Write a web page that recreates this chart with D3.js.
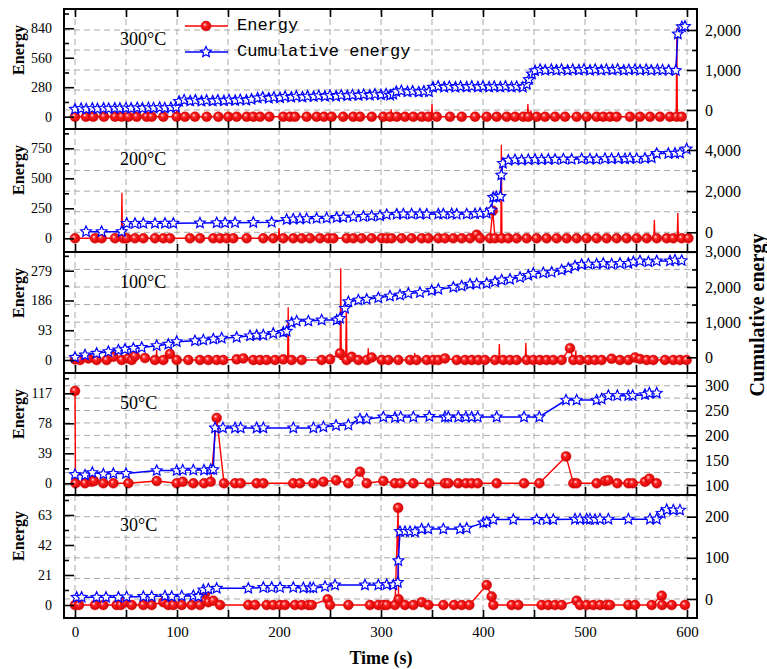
<!DOCTYPE html>
<html><head><meta charset="utf-8">
<script src="https://cdn.jsdelivr.net/npm/d3@7"></script>
<style>body{margin:0;background:#fff}svg{display:block}</style>
</head><body><svg id="c" width="767" height="669"></svg>
<script>
// ---------------- DATA ----------------
const timeTicks = [0, 100, 200, 300, 400, 500, 600];
const panelLabels = ["300°C", "200°C", "100°C", "50°C", "30°C"];
const legendLabels = ["Energy", "Cumulative energy"];

const leftTicks300 = [0, 280, 560, 840], rightTicks300 = [0, 1000, 2000];
const leftTicks200 = [0, 250, 500, 750], rightTicks200 = [0, 2000, 4000];
const leftTicks100 = [0, 93, 186, 279], rightTicks100 = [0, 1000, 2000, 3000];
const leftTicks50 = [0, 39, 78, 117], rightTicks50 = [100, 150, 200, 250, 300];
const leftTicks30 = [0, 21, 42, 63], rightTicks30 = [0, 100, 200];

// Energy (marked points) [time, value]
const energy300 = [[0,0],[10.8,0],[17.9,0],[28.4,0],[39.2,0],[45.8,0],[52.3,0],[60.5,0],[70.3,0],[75.2,0],[86.6,0],[99.7,0],[107.8,0],[117.6,0],[129.1,0],[140.5,0],[150.3,0],[158.5,0],[168.3,0],[174.8,0],[181.4,0],[190.5,0],[204.2,0],[210.8,0],[215.7,0],[227.1,0],[236.9,0],[244.1,0],[251.6,0],[262.9,0],[272.8,0],[279.4,0],[290.9,0],[302.3,0],[308.8,0],[315.4,0],[323.5,0],[331.7,0],[339.9,0],[346.4,0],[354.6,0],[367.6,0],[379.1,0],[392.2,0],[403.6,0],[413.4,0],[423.2,0],[431.4,0],[439.5,0],[444.4,0],[452.6,0],[460.8,0],[470.6,0],[480.4,0],[491.8,0],[501.6,0],[511.4,0],[517.9,0],[524.5,0],[531,0],[544.1,0],[553.9,0],[563.7,0],[573.5,0],[583.3,0],[589.9,0],[594.8,0]];
const spikes300 = [[100,150],[310,70],[350,120],[444,120],[447,60],[590,840]];
const cumulative300 = [[0,20],[6,35],[11,25],[17,40],[22,30],[28,45],[33,35],[39,45],[44,40],[50,50],[55,40],[61,55],[66,45],[72,55],[77,50],[83,60],[88,50],[94,60],[99,70],[102,215],[107,250],[113,225],[118,245],[124,220],[129,240],[135,225],[140,245],[146,230],[151,250],[157,235],[162,255],[168,245],[173,265],[179,300],[184,320],[190,295],[195,320],[201,305],[206,335],[212,320],[217,340],[223,325],[228,345],[234,335],[239,355],[245,340],[250,360],[256,345],[261,370],[267,355],[272,375],[278,360],[283,385],[289,370],[294,395],[300,380],[305,400],[309,370],[312,395],[315,460],[320,480],[326,455],[331,470],[337,450],[342,470],[347,455],[351,570],[356,590],[362,570],[367,585],[373,570],[378,585],[384,575],[389,590],[395,575],[400,590],[406,575],[411,585],[417,575],[422,590],[428,575],[433,585],[439,570],[443,640],[445,760],[448,900],[451,980],[456,1010],[461,990],[467,1010],[472,995],[477,1010],[483,990],[488,1010],[494,1000],[499,1015],[505,990],[510,1010],[516,995],[521,1010],[527,1000],[532,1015],[538,990],[543,1005],[549,1010],[554,995],[560,1010],[565,990],[571,1005],[576,1000],[582,995],[589,985],[591,1900],[595,2080],[598,2090]];

const energy200 = [[0,0],[19.6,0],[26.1,0],[39.2,0],[47.4,0],[50.7,0],[58.8,0],[67,0],[78.4,0],[86.6,0],[93.1,0],[112.7,0],[122.5,0],[135.6,0],[142.2,0],[148.7,0],[155.2,0],[168.3,0],[184.6,0],[194.4,0],[204.2,0],[214,0],[222.2,0],[230.4,0],[240.2,0],[248.4,0],[253.3,0],[266.3,0],[272.9,0],[281,0],[290.8,0],[300.7,0],[305.6,0],[310.4,0],[320.2,0],[330,0],[339.9,0],[346.4,0],[356.2,0],[362.7,0],[370.9,0],[379.1,0],[387.3,0],[393.8,30],[397.1,0],[406.9,0],[409.5,230],[411.8,0],[418.3,0],[424.8,0],[433,0],[442.8,0],[452.6,0],[462.4,0],[472.2,0],[482,0],[491.8,0],[501.6,0],[511.4,0],[521.2,0],[531,0],[540.8,0],[550.7,0],[560.5,0],[570.3,0],[580.1,0],[586.6,0],[594.8,0],[601.3,0]];
const spikes200 = [[46,380],[200,86],[418,780],[568,155],[591,210]];
const cumulative200 = [[10.8,30],[26.1,30],[45.8,30],[50.7,435],[58.8,430],[67,440],[78.4,435],[88.2,440],[96.4,440],[122.5,450],[138.9,460],[147.1,465],[156.9,470],[174.8,480],[192.8,490],[207.5,620],[214,640],[220.6,650],[227.1,660],[236.9,680],[246.7,690],[256.6,720],[263.1,730],[272.9,750],[282.7,770],[290.8,790],[299,800],[305.6,860],[315.4,880],[321.9,885],[330,890],[338.2,890],[344.8,880],[356.2,890],[361.1,890],[369.3,900],[374.2,880],[384,890],[392.2,900],[397.1,920],[403.6,920],[408,1080],[410,1700],[413,1720],[417,1740],[418,2780],[419.5,3350],[424.8,3500],[431.4,3520],[437.9,3510],[444.4,3530],[451,3540],[457.5,3530],[464,3550],[470.6,3540],[478.8,3560],[486.9,3550],[496.7,3570],[504.9,3560],[511.4,3550],[519.6,3580],[526.1,3570],[532.7,3580],[539.2,3570],[544.1,3590],[550.7,3580],[558.8,3600],[565.4,3620],[570.3,3830],[581.7,3830],[588.2,3840],[593.1,3850],[599.6,4050]];

const energy100 = [[0,2],[4.9,0],[13.1,5],[21.2,0],[31,0],[37.6,10],[45.8,0],[52.3,5],[55.6,0],[58.8,12],[68.6,6],[78.4,0],[86.6,0],[93.1,19],[99.7,0],[111.1,0],[122.5,0],[130.7,0],[138.9,0],[145.4,0],[158.5,2],[165,5],[174.8,0],[181.4,0],[187.9,0],[196.1,0],[204.2,2],[212.4,0],[222.2,0],[241.8,0],[250,2],[259.8,21],[266.3,0],[271.2,10],[277.8,0],[286,0],[290.9,8],[300.7,0],[307.2,0],[317,0],[328.4,0],[334.9,0],[344.8,0],[351.3,0],[356.2,0],[362.7,5],[374.2,0],[382.4,0],[388.9,0],[395.4,0],[401.9,0],[411.8,0],[419.9,0],[426.5,0],[433,0],[442.8,0],[449.3,0],[455.8,0],[462.4,0],[468.9,0],[477.1,0],[485.3,37],[488.6,0],[495.1,0],[503.3,0],[509.8,0],[516.3,0],[526.1,4],[534.3,0],[542.5,0],[549,8],[553.9,3],[560.5,0],[567,0],[578.4,0],[586.6,0],[593.1,0],[599.6,0]];
const spikes100 = [[80,31],[209,165],[260.5,287],[266,187],[287.5,37],[333,22],[416,50],[442,54],[491,30]];
const cumulative100 = [[0,0],[9.8,66],[21.2,114],[32.7,160],[42.5,208],[49,230],[57.2,255],[65.4,280],[80.1,331],[91.5,370],[99.7,445],[117.6,470],[125.8,492],[135.6,520],[143.8,545],[158.5,568],[171.6,610],[178.1,625],[184.6,634],[194.4,680],[204.2,710],[207.5,740],[212.4,984],[217.3,1030],[228.8,1030],[241.8,1060],[256.6,1060],[259.8,1108],[264.7,1392],[268,1580],[277.8,1628],[286,1650],[297.4,1694],[308.8,1740],[318.6,1770],[326.8,1818],[338.2,1840],[349.7,1900],[356.2,1932],[370.9,1990],[379.1,2026],[387.3,2080],[393.8,2090],[403.6,2102],[411.8,2150],[418.3,2196],[426.5,2220],[436.3,2273],[444.4,2330],[449.3,2386],[459.1,2400],[467.3,2420],[477.1,2480],[483.6,2530],[490.2,2594],[496.7,2640],[503.3,2650],[511.4,2650],[517.9,2670],[526.1,2650],[534.3,2670],[542.5,2670],[547.4,2716],[553.9,2740],[562.1,2716],[570.3,2740],[583.3,2740],[588.2,2764],[594.8,2750]];

const energy50 = [[0,120],[0.5,0],[9.8,0],[16.3,2],[18.6,3],[27.8,0],[37.6,0],[52.3,0],[80.1,3],[99.7,0],[105.6,2],[116,0],[126.5,0],[133,2],[138.9,85],[146.1,0],[156.9,0],[162.4,0],[178.1,0],[184.6,0],[214,0],[220.6,0],[233.7,0],[243.5,2],[255.9,4],[268,0],[279.4,15],[286,0],[302.3,3],[313.7,0],[319.3,0],[331.7,0],[347.4,0],[362.7,0],[366,0],[375.8,0],[383.3,0],[388.9,0],[394.8,0],[413.4,0],[440.2,0],[455.2,0],[481.4,35],[488.6,0],[491.8,0],[511.4,0],[519.6,3],[522.9,4],[531.7,0],[542.5,0],[546.7,0],[558.8,2],[563.1,6],[570.3,0]];
const spikes50 = [];
const cumulative50 = [[0,121],[9.8,120],[17,125],[27.8,122],[37.6,123],[50,123],[80.1,129],[99.7,129],[105.6,130],[116,130],[126.5,130],[133,131],[135.5,131],[137.3,215],[145,215],[156.9,215],[162.4,215],[178.1,215],[184.6,215],[214,215],[233.7,215],[243.5,217],[255.9,220],[268,221],[279.4,233],[286,233],[302.3,237],[313.7,236],[319.3,237],[331.7,237],[347.4,238],[362.7,237],[366,237],[375.8,237],[383.3,237],[388.9,237],[394.8,237],[413.4,237],[440.2,237],[455.2,237],[481.4,271],[491.8,271],[511.4,271],[516.3,273],[522.9,280],[531.7,280],[542.5,280],[546.7,280],[558.8,282],[563.1,285],[570.3,285]];

const energy30 = [[0,0],[3.9,0],[19.6,0],[27.8,0],[40.8,0],[44.8,0],[49,2],[55.6,0],[67,0],[75.2,0],[86.6,2],[91.5,0],[96.4,0],[104.6,0],[114.4,0],[122.5,0],[127.5,8],[130.7,2],[135.6,3],[142.2,0],[169.9,0],[176.5,0],[187.9,0],[194.4,0],[201,0],[205.9,0],[215.7,0],[222.2,0],[228.8,0],[232,0],[247.7,4],[250,0],[268,0],[289.2,0],[297.4,0],[302.3,0],[305.6,0],[313.7,0],[316.8,68],[317.2,4],[323.5,0],[331.7,0],[339.9,2],[346.4,0],[361.1,0],[371.6,0],[379.1,0],[386.6,0],[403.6,14],[408.5,6],[410.1,0],[428.1,0],[434.6,0],[457.5,0],[464,0],[470.6,0],[477.1,0],[491.8,3],[495.1,0],[501.6,0],[508.1,0],[514.7,0],[521.3,0],[524.5,0],[542.5,0],[549,0],[565.4,0],[575.2,6.5],[575.6,0],[585,0],[598,0]];
const spikes30 = [];
const cumulative30 = [[1.6,4],[6.5,4],[21.2,4],[30.4,4],[42.5,4],[50.6,5],[67,6],[75.2,6],[88.2,7],[94.8,6],[104.6,7],[116,8],[120.9,6],[125.8,22],[130.7,24],[138.9,26],[169.9,26],[184.6,28],[192.8,28],[201,28],[214,28],[223.9,27],[230.4,27],[233.7,27],[245.1,30],[254.9,34],[284.3,34],[297.4,34],[305.6,35],[312.1,34],[316.5,40],[317,93],[318.6,164],[323.5,164],[328.4,164],[333.3,163],[339.9,170],[346.4,170],[361.1,170],[377.5,170],[384,172],[400.3,185],[403.6,187],[410.1,193],[429.7,193],[452.6,193],[462.4,193],[468.9,193],[490.2,194],[495.1,194],[501.6,194],[504.9,194],[509.8,193],[514.7,194],[522.9,194],[542.5,194],[563.7,194],[570.3,194],[575.2,208],[580.1,217],[586.6,216],[593.1,216]];

// ---------------- LAYOUT ----------------
const svg = d3.select("#c");
const X0 = 64, X1 = 697;
const x = d3.scaleLinear().domain([-10.8, 609.8]).range([X0, X1]);
const serif = "'Liberation Serif','Times New Roman',serif";

const panels = [
  {label: panelLabels[0], top: 9, bottom: 129, left: [-117, 1023], lt: leftTicks300, lminor: 140, right: [-475, 2525], rt: rightTicks300, rminor: 500, energy: energy300, spikes: spikes300, cum: cumulative300},
  {label: panelLabels[1], top: 129, bottom: 252, left: [-114, 911], lt: leftTicks200, lminor: 125, right: [-957, 5020], rt: rightTicks200, rminor: 1000, energy: energy200, spikes: spikes200, cum: cumulative200},
  {label: panelLabels[2], top: 252, bottom: 373, left: [-40.6, 337.5], lt: leftTicks100, lminor: 46.5, right: [-446, 2995], rt: rightTicks100, rminor: 500, energy: energy100, spikes: spikes100, cum: cumulative100},
  {label: panelLabels[3], top: 373, bottom: 495, left: [-15.2, 143.4], lt: leftTicks50, lminor: 19.5, right: [79.9, 325.6], rt: rightTicks50, rminor: 25, energy: energy50, spikes: spikes50, cum: cumulative50},
  {label: panelLabels[4], top: 495, bottom: 618, left: [-9.1, 77], lt: leftTicks30, lminor: 10.5, right: [-46.2, 252.7], rt: rightTicks30, rminor: 50, energy: energy30, spikes: spikes30, cum: cumulative30}
];

const defs = svg.append("defs");
const grad = defs.append("radialGradient").attr("id", "ball")
  .attr("cx", "50%").attr("cy", "50%").attr("r", "55%").attr("fx", "35%").attr("fy", "32%");
grad.append("stop").attr("offset", "0%").attr("stop-color", "#ffe0e0");
grad.append("stop").attr("offset", "35%").attr("stop-color", "#ff2020");
grad.append("stop").attr("offset", "100%").attr("stop-color", "#c80000");

function starPath(R) {
  const r = R * 0.47; let p = "";
  for (let i = 0; i < 10; i++) {
    const a = -Math.PI / 2 + i * Math.PI / 5, rr = i % 2 ? r : R;
    p += (i ? "L" : "M") + (rr * Math.cos(a)).toFixed(2) + "," + (rr * Math.sin(a)).toFixed(2);
  }
  return p + "Z";
}
const STAR = starPath(5.6);

function minors(dom, step, majors) {
  const out = [];
  const s = Math.ceil(dom[0] / step) * step;
  for (let v = s; v <= dom[1] + 1e-9; v += step) {
    if (!majors.some(m => Math.abs(m - v) < 1e-6)) out.push(+v.toFixed(4));
  }
  return out;
}
const gridTimes = d3.range(0, 601, 50);

panels.forEach((p, i) => {
  const yl = d3.scaleLinear().domain(p.left).range([p.bottom, p.top]);
  const yr = d3.scaleLinear().domain(p.right).range([p.bottom, p.top]);
  const g = svg.append("g");
  const cid = "clip" + i;
  defs.append("clipPath").attr("id", cid).append("rect")
    .attr("x", X0).attr("y", p.top).attr("width", X1 - X0).attr("height", p.bottom - p.top);

  // grid
  const grid = g.append("g").attr("stroke", "#a8a8a8").attr("stroke-width", 1).attr("stroke-dasharray", "6,4");
  gridTimes.forEach(t => grid.append("line").attr("x1", x(t)).attr("x2", x(t)).attr("y1", p.top).attr("y2", p.bottom));
  const rAll = p.rt.concat(minors(p.right, p.rminor, p.rt)).filter(v => yr(v) > p.top + 1 && yr(v) < p.bottom - 1);
  rAll.forEach(v => grid.append("line").attr("x1", X0).attr("x2", X1).attr("y1", yr(v)).attr("y2", yr(v)));

  const plot = g.append("g").attr("clip-path", `url(#${cid})`);
  // energy line
  const eLine = d3.line().x(d => x(d[0])).y(d => yl(d[1]));
  plot.append("path").attr("d", eLine(p.energy)).attr("fill", "none").attr("stroke", "#ff0000").attr("stroke-width", 1.4);
  p.spikes.forEach(s => {
    plot.append("path").attr("d", eLine([[s[0] - 0.6, 0], [s[0], s[1]], [s[0] + 0.6, 0]]))
      .attr("fill", "none").attr("stroke", "#ff0000").attr("stroke-width", 1.3);
  });
  plot.append("g").selectAll("circle").data(p.energy).join("circle")
    .attr("cx", d => x(d[0])).attr("cy", d => yl(d[1])).attr("r", 5)
    .attr("fill", "url(#ball)").attr("stroke", "#e00000").attr("stroke-width", 0.4);
  // cumulative
  const cLine = d3.line().x(d => x(d[0])).y(d => yr(d[1]));
  plot.append("path").attr("d", cLine(p.cum)).attr("fill", "none").attr("stroke", "#0000ff").attr("stroke-width", 1.5);
  plot.append("g").selectAll("path").data(p.cum).join("path")
    .attr("d", STAR).attr("transform", d => `translate(${x(d[0])},${yr(d[1])})`)
    .attr("fill", "#fff").attr("stroke", "#0000ff").attr("stroke-width", 1.2);

  // frame
  g.append("rect").attr("x", X0).attr("y", p.top).attr("width", X1 - X0).attr("height", p.bottom - p.top)
    .attr("fill", "none").attr("stroke", "#000").attr("stroke-width", 2);

  // left axis
  const la = g.append("g").attr("transform", `translate(${X0},0)`)
    .call(d3.axisLeft(yl).tickValues(p.lt).tickSizeInner(-10).tickSizeOuter(0).tickPadding(12));
  const lm = g.append("g").attr("transform", `translate(${X0},0)`)
    .call(d3.axisLeft(yl).tickValues(minors(p.left, p.lminor, p.lt).filter(v => yl(v) > p.top + 2 && yl(v) < p.bottom - 2)).tickSizeInner(-5).tickSizeOuter(0).tickFormat(""));
  // right axis
  const ra = g.append("g").attr("transform", `translate(${X1},0)`)
    .call(d3.axisRight(yr).tickValues(p.rt.filter(v => yr(v) >= p.top - 0.5)).tickSizeInner(-10).tickSizeOuter(0).tickPadding(8).tickFormat(d3.format(",")));
  const rm = g.append("g").attr("transform", `translate(${X1},0)`)
    .call(d3.axisRight(yr).tickValues(minors(p.right, p.rminor, p.rt).filter(v => yr(v) > p.top + 2 && yr(v) < p.bottom - 2)).tickSizeInner(-5).tickSizeOuter(0).tickFormat(""));
  // bottom ticks
  const isLast = i === panels.length - 1;
  const ba = g.append("g").attr("transform", `translate(0,${p.bottom})`)
    .call(d3.axisBottom(x).tickValues(gridTimes).tickSizeInner(-8).tickSizeOuter(0).tickPadding(8)
      .tickFormat(d => (isLast && timeTicks.includes(d)) ? d : ""));
  const axes = [la, lm, ra, rm, ba];
  if (i === 0) {
    axes.push(g.append("g").attr("transform", `translate(0,${p.top})`)
      .call(d3.axisTop(x).tickValues(gridTimes).tickSizeInner(-8).tickSizeOuter(0).tickFormat("")));
  }
  axes.forEach(a => {
    a.select(".domain").remove();
    a.selectAll(".tick line").attr("stroke", "#000").attr("stroke-width", 1.6);
    a.selectAll("text").attr("font-family", serif).attr("fill", "#000");
  });
  la.selectAll("text").attr("font-size", 14);
  ra.selectAll("text").attr("font-size", 16);
  ba.selectAll("text").attr("font-size", 15);

  // panel label
  g.append("text").attr("x", 120).attr("y", p.top + 36).attr("font-family", serif).attr("font-size", 18).text(p.label);
  // left title
  g.append("text").attr("transform", `translate(24,${p.top + 41}) rotate(-90)`).attr("text-anchor", "middle")
    .attr("font-family", serif).attr("font-weight", "bold").attr("font-size", 16).text("Energy");
});

// Legend
const mono = "'Liberation Mono','Courier New',monospace";
const lg = svg.append("g");
lg.append("line").attr("x1", 185).attr("x2", 228).attr("y1", 26).attr("y2", 26).attr("stroke", "#ff0000").attr("stroke-width", 1.5);
lg.append("circle").attr("cx", 206).attr("cy", 26).attr("r", 5).attr("fill", "url(#ball)").attr("stroke", "#e00000").attr("stroke-width", 0.4);
lg.append("text").attr("x", 237).attr("y", 30).attr("font-family", mono).attr("font-size", 17).text(legendLabels[0]);
lg.append("line").attr("x1", 185).attr("x2", 228).attr("y1", 52).attr("y2", 52).attr("stroke", "#0000ff").attr("stroke-width", 1.5);
lg.append("path").attr("d", STAR).attr("transform", "translate(206,52)").attr("fill", "#fff").attr("stroke", "#0000ff").attr("stroke-width", 1.2);
lg.append("text").attr("x", 237).attr("y", 56).attr("font-family", mono).attr("font-size", 17).text(legendLabels[1]);

// Axis titles
svg.append("text").attr("x", 381).attr("y", 664).attr("text-anchor", "middle").attr("font-family", serif)
  .attr("font-weight", "bold").attr("font-size", 18).text("Time (s)");
svg.append("text").attr("transform", "translate(764,315) rotate(-90)").attr("text-anchor", "middle").attr("font-family", serif)
  .attr("font-weight", "bold").attr("font-size", 20).text("Cumulative energy");
</script>
</body></html>
